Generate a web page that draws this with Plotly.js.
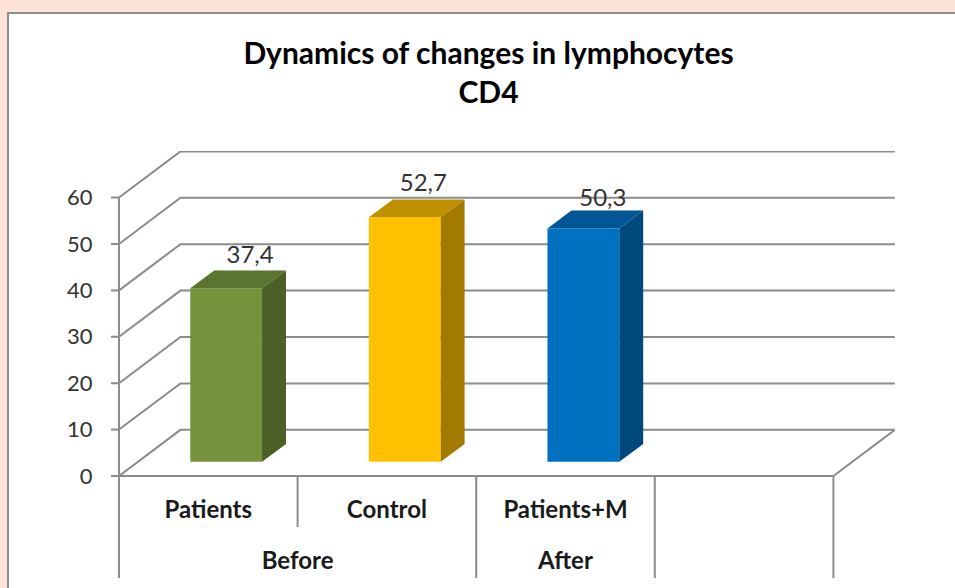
<!DOCTYPE html>
<html>
<head>
<meta charset="utf-8">
<script src="https://cdn.plot.ly/plotly-3.0.1.min.js"></script>
<style>
html,body{margin:0;padding:0;width:955px;height:588px;overflow:hidden;background:#FDE3D6;}
#panel{position:absolute;left:7px;top:12px;width:948px;height:576px;background:#fff;border-left:2px solid #8c8c8c;border-top:2px solid #8c8c8c;}
#chart{position:absolute;left:0;top:0;width:955px;height:588px;}
</style>
</head>
<body>
<div id="panel"></div>
<div id="chart"></div>
<script>
// Data
const groups = ["Before", "After"];
const categories = ["Patients", "Control", "Patients+M"];
const values = [37.4, 52.7, 50.3];
const valueLabels = ["37,4", "52,7", "50,3"];
const yTicks = [0, 10, 20, 30, 40, 50, 60];
const titleText = "Dynamics of changes in lymphocytes<br>CD4";

// Colours of each bar: front, top, side
const frontColors = ["#76923C", "#FFC000", "#0070C0"];
const topColors = ["#5B7530", "#BF9000", "#005596"];
const sideColors = ["#4B5F27", "#A37A00", "#00497D"];

// Pseudo-3D projection, in axis units (x = category slots, y = value)
const nSlots = 4;
const wallDx = 0.344, wallDy = 9.95;      // depth of the floor
const barDx = 0.134, barDy = 3.85;        // depth of a bar
const barShiftX = 0.1, barShiftY = 3.05;  // front face position inside the floor
const barWidth = 0.402;
const gridColor = "#8c8c8c";
const tickLen = 0.045;                    // tick mark length in slots
const fontFamily = "Lato, Carlito, sans-serif";

const centers = values.map((_, i) => i + 0.5 + barShiftX);

// Wall, floor, axis and divider lines
const gx = [], gy = [];
function seg(xs, ys) { gx.push(...xs, null); gy.push(...ys, null); }
yTicks.forEach(v => {
  seg([-tickLen, 0, wallDx, nSlots + wallDx], [v, v, v + wallDy, v + wallDy]);
});
seg([0, nSlots, nSlots + wallDx], [0, 0, wallDy]);
seg([0, 0], [yTicks[yTicks.length - 1], -22]);
seg([1, 1], [0, -11]);
seg([2, 2], [0, -22]);
seg([3, 3], [0, -22]);
seg([4, 4], [0, -22]);

const traces = [{
  type: "scatter", mode: "lines", x: gx, y: gy, xaxis: "x", yaxis: "y",
  line: {color: gridColor, width: 2}, hoverinfo: "skip", connectgaps: false
}, {
  type: "scatter", mode: "text", xaxis: "x", yaxis: "y", hoverinfo: "skip",
  x: [0.5, 1.5, 2.5], y: [-7.7, -7.7, -7.7], text: categories,
  textposition: "middle center",
  textfont: {family: fontFamily, size: 24, color: "#1a1a1a", weight: 700}
}, {
  type: "scatter", mode: "text", xaxis: "x", yaxis: "y", hoverinfo: "skip",
  x: [1, 2.5], y: [-18.8, -18.8], text: groups,
  textposition: "middle center",
  textfont: {family: fontFamily, size: 24, color: "#1a1a1a", weight: 700}
}, {
  type: "bar", x: centers, y: values, base: values.map(() => barShiftY), width: barWidth,
  xaxis: "x2", yaxis: "y2", hoverinfo: "skip",
  marker: {color: frontColors, line: {width: 0}}
}];

values.forEach((v, i) => {
  const l = centers[i] - barWidth / 2, r = centers[i] + barWidth / 2;
  const b = barShiftY, t = barShiftY + v;
  traces.push({
    type: "scatter", mode: "lines", xaxis: "x2", yaxis: "y2", hoverinfo: "skip",
    x: [l, r, r + barDx, l + barDx, l], y: [t, t, t + barDy, t + barDy, t],
    fill: "toself", fillcolor: topColors[i], line: {width: 0, color: topColors[i]}
  });
  traces.push({
    type: "scatter", mode: "lines", xaxis: "x2", yaxis: "y2", hoverinfo: "skip",
    x: [r, r + barDx, r + barDx, r, r], y: [b, b + barDy, t + barDy, t, b],
    fill: "toself", fillcolor: sideColors[i], line: {width: 0, color: sideColors[i]}
  });
});

// Data labels above the bars
const labelNudgeX = [0, -0.03, -0.025];
const labelNudgeY = [2.8, 3.1, 2.3];
traces.push({
  type: "scatter", mode: "text", xaxis: "x2", yaxis: "y2", hoverinfo: "skip",
  x: centers.map((c, i) => c + barDx + labelNudgeX[i]),
  y: values.map((v, i) => v + barShiftY + barDy + labelNudgeY[i]),
  text: valueLabels, textposition: "middle center",
  textfont: {family: fontFamily, size: 24, color: "#333333"}
});

const xRange = [-10 / 178.6, 776 / 178.6];
const yRange = [-112 / 4.64, 70.04];
const layout = {
  width: 955, height: 588,
  paper_bgcolor: "rgba(0,0,0,0)", plot_bgcolor: "rgba(0,0,0,0)",
  margin: {l: 109, r: 60, t: 151, b: 0, pad: 0},
  showlegend: false,
  title: {
    text: titleText, x: 488.5 / 955, xanchor: "center", xref: "container",
    y: 0.891, yanchor: "top", yref: "container",
    font: {family: fontFamily, size: 30, color: "#000000", weight: 700}
  },
  xaxis: {range: xRange, visible: false, fixedrange: true},
  yaxis: {
    range: yRange, tickmode: "array", tickvals: yTicks, ticktext: yTicks.map(String),
    showgrid: false, zeroline: false, showline: false,
    ticks: "outside", ticklen: 11, tickwidth: 1, tickcolor: "rgba(0,0,0,0)",
    tickfont: {family: fontFamily, size: 22, color: "#333333"},
    fixedrange: true
  },
  xaxis2: {range: xRange, overlaying: "x", visible: false, fixedrange: true},
  yaxis2: {range: yRange, overlaying: "y", visible: false, fixedrange: true}
};
Plotly.newPlot("chart", traces, layout, {displayModeBar: false, responsive: false});
</script>
</body>
</html>
